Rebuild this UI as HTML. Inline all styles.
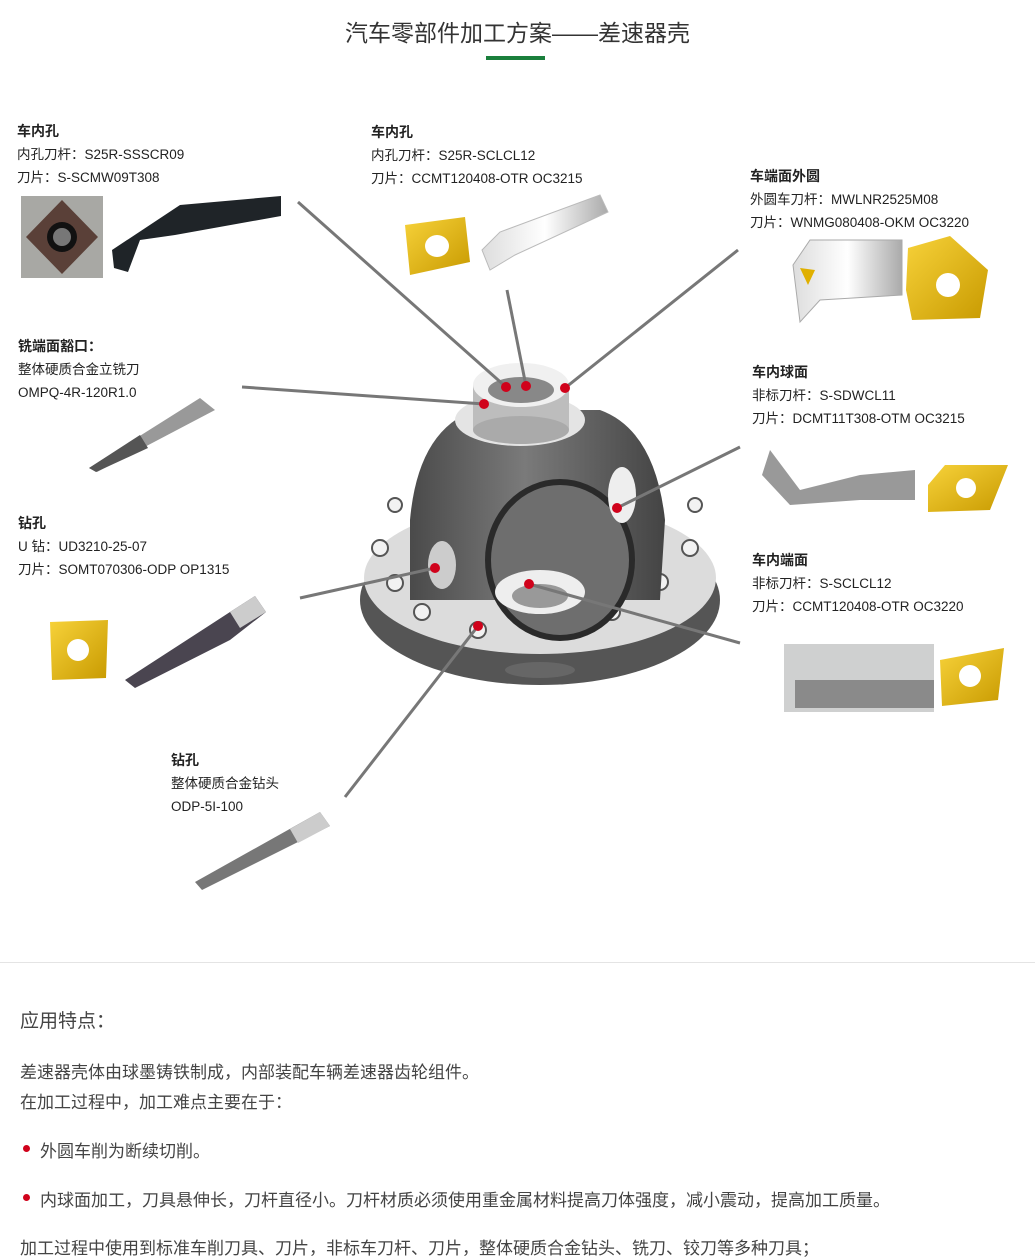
<!DOCTYPE html>
<html><head><meta charset="utf-8"><style>
body{margin:0;width:1035px;height:1260px;background:#fff;position:relative;overflow:hidden;font-family:"Liberation Sans","Noto Sans CJK SC",sans-serif;color:#222}
.t{position:absolute;font-size:13.5px;line-height:23px;white-space:nowrap}
.t b{font-size:14px}
.a{position:absolute;white-space:nowrap}
</style></head><body>
<div class="a" style="left:0;width:1035px;top:14px;text-align:center;font-size:23px;color:#333">汽车零部件加工方案——差速器壳</div>
<div class="a" style="left:486px;top:56px;width:59px;height:4px;background:#1a7f3c"></div>

<div class="t" style="left:17px;top:120px"><b>车内孔</b><br>内孔刀杆：S25R-SSSCR09<br>刀片：S-SCMW09T308</div>
<div class="t" style="left:371px;top:121px"><b>车内孔</b><br>内孔刀杆：S25R-SCLCL12<br>刀片：CCMT120408-OTR OC3215</div>
<div class="t" style="left:750px;top:165px"><b>车端面外圆</b><br>外圆车刀杆：MWLNR2525M08<br>刀片：WNMG080408-OKM OC3220</div>
<div class="t" style="left:18px;top:335px"><b>铣端面豁口：</b><br>整体硬质合金立铣刀<br>OMPQ-4R-120R1.0</div>
<div class="t" style="left:752px;top:361px"><b>车内球面</b><br>非标刀杆：S-SDWCL11<br>刀片：DCMT11T308-OTM OC3215</div>
<div class="t" style="left:18px;top:512px"><b>钻孔</b><br>U 钻：UD3210-25-07<br>刀片：SOMT070306-ODP OP1315</div>
<div class="t" style="left:752px;top:549px"><b>车内端面</b><br>非标刀杆：S-SCLCL12<br>刀片：CCMT120408-OTR OC3220</div>
<div class="t" style="left:171px;top:749px"><b>钻孔</b><br>整体硬质合金钻头<br>ODP-5I-100</div>

<svg class="a" style="left:0;top:0" width="1035" height="960">
<defs>
<linearGradient id="g2" x1="0" x2="1"><stop offset="0" stop-color="#ddd"/><stop offset=".5" stop-color="#fff"/><stop offset="1" stop-color="#aaa"/></linearGradient>
<linearGradient id="gy" x1="0" y1="0" x2="1" y2="1"><stop offset="0" stop-color="#f7d23a"/><stop offset="1" stop-color="#c89a00"/></linearGradient>
<linearGradient id="gd" x1="0" x2="1"><stop offset="0" stop-color="#4a4a4a"/><stop offset=".45" stop-color="#7a7a7a"/><stop offset="1" stop-color="#444"/></linearGradient>
</defs>
<rect x="21" y="196" width="82" height="82" fill="#a8a8a4"/>
<polygon points="62,200 98,237 62,274 26,237" fill="#5a4038"/>
<circle cx="62" cy="237" r="15" fill="#111"/><circle cx="62" cy="237" r="9" fill="#777"/>
<polygon points="112,250 180,205 281,196 281,216 175,235 140,240 128,272 114,268" fill="#1f2428"/>
<polygon points="405,225 465,217 470,262 410,275" fill="url(#gy)"/>
<ellipse cx="437" cy="246" rx="12" ry="11" fill="#fff"/>
<polygon points="482,250 500,232 600,195 608,212 515,255 490,270" fill="url(#g2)" stroke="#bbb"/>
<polygon points="793,265 810,240 902,240 902,295 820,300 800,322" fill="url(#g2)" stroke="#aaa"/>
<polygon points="800,268 815,270 808,285" fill="#e0b000"/>
<polygon points="908,248 950,236 988,270 980,318 912,320 906,290" fill="url(#gy)"/>
<circle cx="948" cy="285" r="12" fill="#fff"/>
<polygon points="89,468 200,398 215,410 97,472" fill="#999"/>
<polygon points="89,468 140,435 148,448 96,472" fill="#555"/>
<polygon points="762,475 770,450 800,490 860,475 915,470 915,500 860,500 790,505" fill="#999"/>
<polygon points="928,485 945,465 1008,465 990,510 928,512" fill="url(#gy)"/>
<circle cx="966" cy="488" r="10" fill="#fff"/>
<polygon points="50,622 108,620 106,678 52,680" fill="url(#gy)"/>
<circle cx="78" cy="650" r="11" fill="#fff"/>
<polygon points="125,680 210,625 230,612 255,596 266,612 230,640 135,688" fill="#4a4550"/>
<polygon points="230,612 255,596 266,612 240,628" fill="#ccc"/>
<rect x="784" y="644" width="150" height="68" fill="#cfd0d0"/>
<rect x="795" y="680" width="139" height="28" fill="#8a8a8a"/>
<polygon points="940,660 1004,648 998,700 942,706" fill="url(#gy)"/>
<circle cx="970" cy="676" r="11" fill="#fff"/>
<polygon points="195,882 320,812 330,826 202,890" fill="#777"/>
<polygon points="290,829 320,812 330,826 298,843" fill="#ccc"/>
<!-- housing -->
<ellipse cx="540" cy="600" rx="180" ry="85" fill="#555"/>
<ellipse cx="540" cy="578" rx="176" ry="76" fill="#dcdcdc"/>
<g fill="#f2f2f2" stroke="#555" stroke-width="2">
<circle cx="380" cy="548" r="8"/><circle cx="395" cy="583" r="8"/><circle cx="422" cy="612" r="8"/><circle cx="478" cy="630" r="8"/><circle cx="548" cy="630" r="8"/><circle cx="612" cy="612" r="8"/><circle cx="660" cy="582" r="8"/><circle cx="690" cy="548" r="8"/><circle cx="695" cy="505" r="7"/><circle cx="395" cy="505" r="7"/>
</g>
<path d="M410,600 L410,520 Q418,430 475,410 L600,410 Q655,430 665,520 L660,600 Z" fill="url(#gd)"/>
<ellipse cx="560" cy="560" rx="72" ry="78" fill="#6e6e6e" stroke="#2a2a2a" stroke-width="6"/>
<ellipse cx="540" cy="592" rx="45" ry="22" fill="#eee"/>
<ellipse cx="540" cy="596" rx="28" ry="12" fill="#999"/>
<ellipse cx="622" cy="495" rx="14" ry="28" fill="#eee"/>
<ellipse cx="442" cy="565" rx="14" ry="24" fill="#ccc"/>
<ellipse cx="520" cy="420" rx="65" ry="26" fill="#e4e4e4"/>
<rect x="473" y="385" width="96" height="45" fill="#bdbdbd"/>
<ellipse cx="521" cy="430" rx="48" ry="14" fill="#aaa"/>
<ellipse cx="521" cy="385" rx="48" ry="22" fill="#f0f0f0"/>
<ellipse cx="521" cy="390" rx="33" ry="13" fill="#888"/>
<ellipse cx="540" cy="670" rx="35" ry="8" fill="#666"/>
<g stroke="#777" stroke-width="3">
<line x1="298" y1="202" x2="506" y2="387"/><line x1="507" y1="290" x2="526" y2="386"/><line x1="738" y1="250" x2="565" y2="388"/><line x1="242" y1="387" x2="484" y2="404"/><line x1="740" y1="447" x2="617" y2="508"/><line x1="300" y1="598" x2="435" y2="568"/><line x1="529" y1="584" x2="740" y2="643"/><line x1="345" y1="797" x2="478" y2="626"/>
</g>
<g fill="#d0021b">
<circle cx="506" cy="387" r="5"/><circle cx="526" cy="386" r="5"/><circle cx="565" cy="388" r="5"/><circle cx="484" cy="404" r="5"/><circle cx="617" cy="508" r="5"/><circle cx="435" cy="568" r="5"/><circle cx="529" cy="584" r="5"/><circle cx="478" cy="626" r="5"/>
</g>
</svg>

<div class="a" style="left:0;top:962px;width:1035px;height:1px;background:#e4e4e4"></div>
<div class="a" style="left:20px;top:1006px;font-size:19px;color:#444">应用特点：</div>
<div class="a" style="left:20px;top:1058px;font-size:17px;line-height:30px;color:#444">差速器壳体由球墨铸铁制成，内部装配车辆差速器齿轮组件。<br>在加工过程中，加工难点主要在于：</div>
<div class="a" style="left:23px;top:1145px;width:7px;height:7px;border-radius:50%;background:#d0021b"></div>
<div class="a" style="left:40px;top:1137px;font-size:17px;color:#444">外圆车削为断续切削。</div>
<div class="a" style="left:23px;top:1194px;width:7px;height:7px;border-radius:50%;background:#d0021b"></div>
<div class="a" style="left:40px;top:1186px;font-size:17px;color:#444">内球面加工，刀具悬伸长，刀杆直径小。刀杆材质必须使用重金属材料提高刀体强度，减小震动，提高加工质量。</div>
<div class="a" style="left:20px;top:1234px;font-size:17px;color:#444">加工过程中使用到标准车削刀具、刀片，非标车刀杆、刀片，整体硬质合金钻头、铣刀、铰刀等多种刀具；</div>
</body></html>
